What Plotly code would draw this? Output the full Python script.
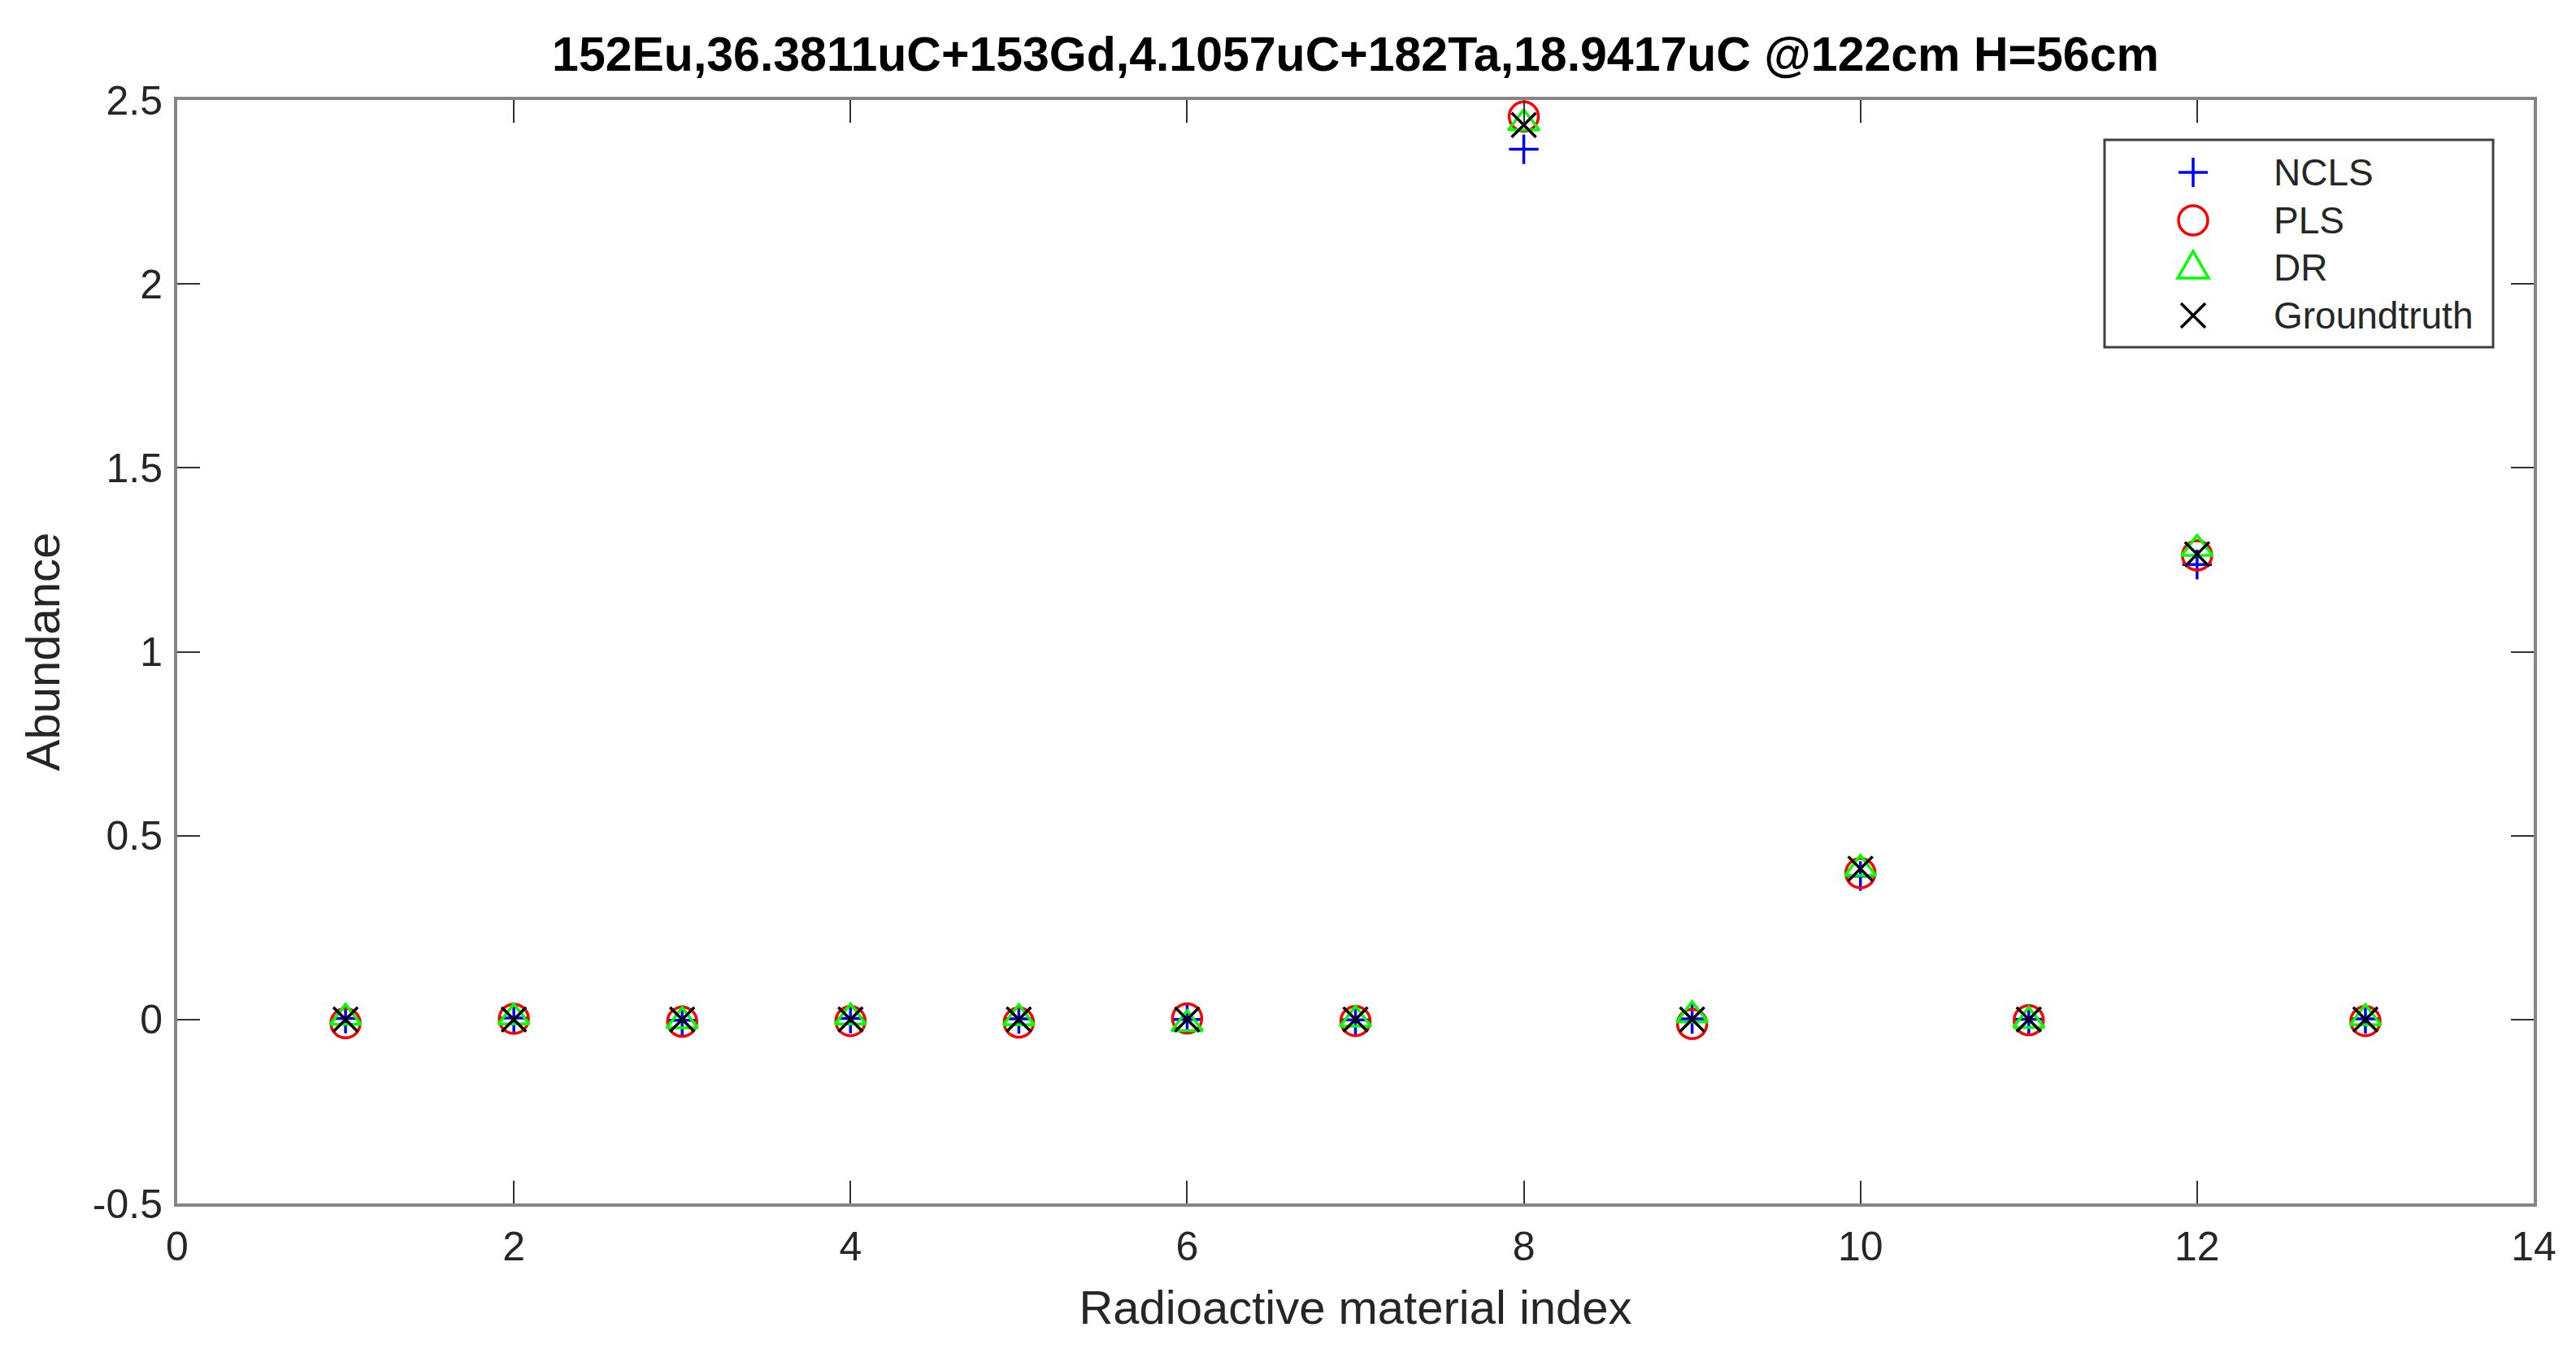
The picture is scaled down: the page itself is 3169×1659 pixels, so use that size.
import plotly.graph_objects as go

# ---- data ----
material_index = [1, 2, 3, 4, 5, 6, 7, 8, 9, 10, 11, 12, 13]
ncls = [0.003, 0.004, -0.002, 0.003, 0.002, 0.000, -0.001, 2.366, 0.002, 0.390, 0.001, 1.237, 0.002]
pls = [-0.010, 0.002, -0.006, -0.004, -0.008, 0.003, -0.004, 2.455, -0.012, 0.398, -0.002, 1.262, -0.004]
dr = [0.005, 0.006, -0.004, 0.006, 0.004, -0.012, 0.000, 2.437, 0.012, 0.410, -0.003, 1.280, 0.004]
groundtruth = [0, 0, 0, 0, 0, 0, 0, 2.432, 0, 0.410, 0, 1.265, 0]

series_names = ["NCLS", "PLS", "DR", "Groundtruth"]
x_ticks = [0, 2, 4, 6, 8, 10, 12, 14]
y_ticks = [-0.5, 0, 0.5, 1, 1.5, 2, 2.5]
y_tick_labels = ["-0.5", "0", "0.5", "1", "1.5", "2", "2.5"]
title_text = "152Eu,36.3811uC+153Gd,4.1057uC+182Ta,18.9417uC @122cm H=56cm"

# screen is 3169x1659; page body has an 8px margin
OFF = 8
SW, SH = 3169, 1659
W, H = SW - OFF, SH - OFF
# plot area in screen pixels
PL, PR, PT, PB = 218, 3117, 123, 1480
ML, MR, MT, MB = PL - OFF, SW - PR, PT - OFF, SH - PB
FONT = "Liberation Sans, Arial, sans-serif"
TXT = "#262626"

fig = go.Figure()
styles = [
    dict(symbol="cross-thin-open", size=26, color="#0000FF"),
    dict(symbol="circle-open", size=36, color="#FF0000"),
    dict(symbol="triangle-up-open", size=33, color="#00FF00"),
    dict(symbol="x-thin-open", size=30, color="#000000"),
]
for name, vals, st in zip(series_names, [ncls, pls, dr, groundtruth], styles):
    fig.add_trace(go.Scatter(
        x=material_index, y=vals, mode="markers", name=name, showlegend=False,
        marker=dict(symbol=st["symbol"], size=st["size"], color=st["color"],
                    line=dict(color=st["color"], width=3.5)),
    ))

axis_common = dict(
    showgrid=False, zeroline=False, showline=True, linecolor="#858585", linewidth=4,
    mirror="ticks", ticks="inside", ticklen=28, tickwidth=2, tickcolor="#333333",
    tickfont=dict(family=FONT, size=50, color=TXT),
)
fig.update_xaxes(range=[0, 14], tickvals=x_ticks, ticklabelstandoff=6,
                 title=dict(text="Radioactive material index", standoff=28,
                            font=dict(family=FONT, size=58, color=TXT)),
                 **axis_common)
fig.update_yaxes(range=[-0.5, 2.5], tickvals=y_ticks, ticktext=y_tick_labels, ticklabelstandoff=4,
                 title=dict(text="Abundance", standoff=23,
                            font=dict(family=FONT, size=58, color=TXT)),
                 **axis_common)

# ---- manual legend (MATLAB style), positions given in screen pixels ----
pw, ph = PR - PL, PB - PT
def px(xp):
    return (xp - PL) / pw
def py(yp):
    return (PB - yp) / ph

shapes = [dict(type="rect", xref="paper", yref="paper",
               x0=px(2589), x1=px(3067), y0=py(427), y1=py(172),
               line=dict(color="#404040", width=3), fillcolor="white", layer="above")]
sym_x = px(2698)
rows = [py(212), py(271), py(329), py(388)]
lw = 3.5
def pshape(**kw):
    d = dict(xref="paper", yref="paper", xsizemode="pixel", ysizemode="pixel",
             xanchor=sym_x, layer="above")
    d.update(kw)
    return d
# plus
shapes.append(pshape(type="line", yanchor=rows[0], x0=-18, x1=18, y0=0, y1=0, line=dict(color="#0000FF", width=lw)))
shapes.append(pshape(type="line", yanchor=rows[0], x0=0, x1=0, y0=-18, y1=18, line=dict(color="#0000FF", width=lw)))
# circle
shapes.append(pshape(type="circle", yanchor=rows[1], x0=-18, x1=18, y0=-18, y1=18, line=dict(color="#FF0000", width=lw)))
# triangle
shapes.append(pshape(type="path", yanchor=rows[2], path="M-19,-13 L19,-13 L0,20 Z", line=dict(color="#00FF00", width=lw)))
# x
shapes.append(pshape(type="line", yanchor=rows[3], x0=-15, x1=15, y0=-15, y1=15, line=dict(color="#000000", width=lw)))
shapes.append(pshape(type="line", yanchor=rows[3], x0=-15, x1=15, y0=15, y1=-15, line=dict(color="#000000", width=lw)))

annotations = []
for name, ry in zip(series_names, rows):
    annotations.append(dict(xref="paper", yref="paper", x=px(2795), y=ry, text=name,
                            showarrow=False, xanchor="left", yanchor="middle",
                            font=dict(family=FONT, size=46, color=TXT)))

fig.update_layout(
    width=W, height=H,
    margin=dict(l=ML, r=MR, t=MT, b=MB),
    paper_bgcolor="white", plot_bgcolor="white",
    title=dict(text="<b>" + title_text + "</b>", x=(ML + (W - MR)) / 2 / W, xanchor="center",
               y=1 - (66 - OFF) / H, yanchor="middle", font=dict(family=FONT, size=59, color="#000000")),
    shapes=shapes, annotations=annotations,
    showlegend=False,
)

fig.write_html("out.html")
